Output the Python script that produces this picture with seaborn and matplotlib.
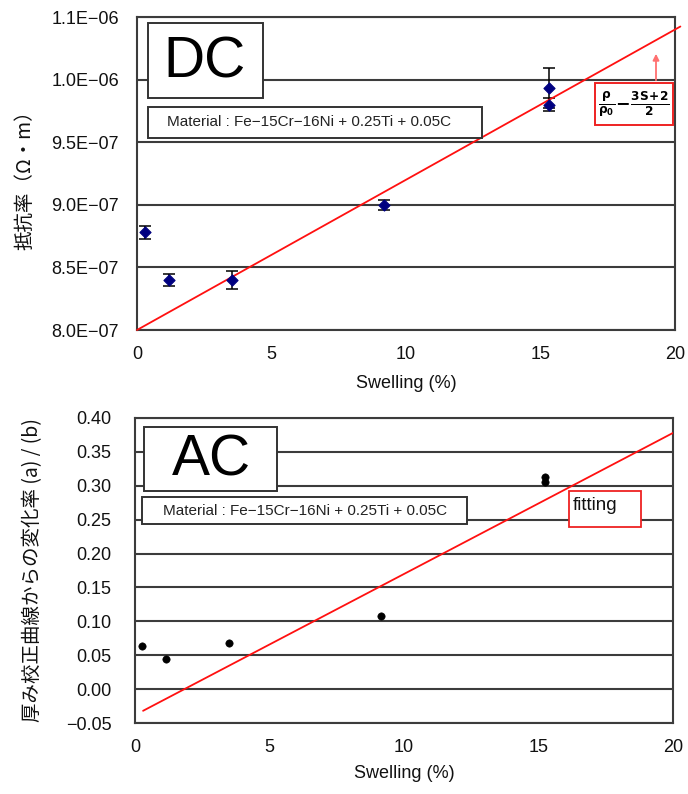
import matplotlib
matplotlib.use("Agg")
import matplotlib.pyplot as plt
import seaborn as sns
from matplotlib.patches import Rectangle, FancyArrowPatch
from matplotlib.ticker import FixedLocator, FixedFormatter

# ---- DC resistivity vs. swelling ----
dc_swelling = [0.3, 1.2, 3.55, 9.2, 15.3, 15.3]
dc_resistivity = [8.78e-7, 8.40e-7, 8.40e-7, 9.00e-7, 9.93e-7, 9.80e-7]
dc_error = [5e-9, 5e-9, 7e-9, 4e-9, 1.6e-8, 5e-9]
dc_fit_swelling = [0.0, 20.2]
dc_fit_resistivity = [8.0e-7, 1.0424e-6]

dc_y_ticks = [8.0e-7, 8.5e-7, 9.0e-7, 9.5e-7, 1.0e-6, 1.05e-6]
dc_y_tick_labels = ["8.0E\u221207", "8.5E\u221207", "9.0E\u221207",
                    "9.5E\u221207", "1.0E\u221206", "1.1E\u221206"]

# ---- AC thickness-calibration deviation vs. swelling ----
ac_swelling = [0.26, 1.15, 3.5, 9.15, 15.25, 15.25]
ac_change = [0.064, 0.045, 0.068, 0.108, 0.306, 0.313]
ac_fit_swelling = [0.3, 20.0]
ac_fit_change = [-0.032, 0.378]

ac_y_ticks = [-0.05, 0.0, 0.05, 0.10, 0.15, 0.20, 0.25, 0.30, 0.35, 0.40]
ac_y_tick_labels = ["\u22120.05", "0.00", "0.05", "0.10", "0.15",
                    "0.20", "0.25", "0.30", "0.35", "0.40"]

x_ticks = [0, 5, 10, 15, 20]
x_tick_labels = ["0", "5", "10", "15", "20"]

material = "Material : Fe\u221215Cr\u221216Ni + 0.25Ti + 0.05C"

sns.set_style("white")
plt.rcParams["font.family"] = ["Liberation Sans", "Noto Sans CJK JP", "DejaVu Sans"]
plt.rcParams["axes.unicode_minus"] = True

W, H = 688, 794
fig = plt.figure(figsize=(W / 100, H / 100), dpi=100)


def fx(px):
    return px / W


def fy(py):
    return 1 - py / H


def axes_rect(x0, y0, x1, y1):
    return [fx(x0), fy(y1), (x1 - x0) / W, (y1 - y0) / H]


def box(x0, y0, x1, y1, color="#333333", lw=1.4):
    fig.patches.append(Rectangle((fx(x0), fy(y1)), (x1 - x0) / W, (y1 - y0) / H,
                                 transform=fig.transFigure, fill=True,
                                 facecolor="white", edgecolor=color, lw=lw,
                                 zorder=5))


GRID = "#3c3c3c"


def style_axes(ax, yticks, ylabels, ypad):
    ax.set_xlim(0, 20)
    ax.xaxis.set_major_locator(FixedLocator(x_ticks))
    ax.xaxis.set_major_formatter(FixedFormatter(x_tick_labels))
    ax.yaxis.set_major_locator(FixedLocator(yticks))
    ax.yaxis.set_major_formatter(FixedFormatter(ylabels))
    ax.set_ylim(yticks[0], yticks[-1])
    ax.yaxis.grid(True, color=GRID, lw=1.5)
    ax.xaxis.grid(False)
    for s in ax.spines.values():
        s.set_color(GRID)
        s.set_linewidth(1.5)
    ax.tick_params(axis="x", direction="in", length=8, width=1.3, color=GRID,
                   labelsize=13, pad=11.5, labelcolor="#111111")
    ax.tick_params(axis="y", length=0, labelsize=13, pad=ypad,
                   labelcolor="#111111")
    ax.set_xlabel("")
    ax.set_ylabel("")


# ---------------- DC panel ----------------
ax1 = fig.add_axes(axes_rect(137, 17, 675, 330))
ax1.errorbar(dc_swelling, dc_resistivity, yerr=dc_error, fmt="none",
             ecolor="black", elinewidth=1.1, capsize=4, capthick=1.1, zorder=3)
sns.scatterplot(x=dc_swelling, y=dc_resistivity, marker="D", s=32,
                color="#000080", edgecolor="#000080", linewidth=0.8,
                ax=ax1, zorder=4)
sns.lineplot(x=dc_fit_swelling, y=dc_fit_resistivity, color="#ff1010",
             lw=1.3, ax=ax1, zorder=3, clip_on=False)
style_axes(ax1, dc_y_ticks, dc_y_tick_labels, 13)

box(148, 23, 263, 98)
fig.text(fx(205), fy(62), "DC", fontsize=41, ha="center", va="center",
         color="black", zorder=6)
box(148, 107, 482, 138)
fig.text(fx(167), fy(122.5), material, fontsize=11, ha="left", va="center",
         color="#222222", zorder=6)

box(595, 83, 673, 125, color="#ee2222", lw=1.4)
fig.text(fx(634), fy(104),
         r"$\mathbf{\frac{\rho}{\rho_0}\!-\!\frac{3S\!+\!2}{2}}$",
         fontsize=12.5, ha="center", va="center", color="black", zorder=6)
fig.patches.append(FancyArrowPatch((fx(656), fy(83)), (fx(656), fy(51)),
                                   transform=fig.transFigure,
                                   arrowstyle="-|>", mutation_scale=9,
                                   color="#ff7070", lw=1.3, zorder=6))

fig.text(fx(25), fy(175), "抵抗率（Ω・m）", rotation=90, fontsize=14,
         ha="center", va="center", color="#111111",
         family=["Noto Sans CJK JP", "DejaVu Sans"])
fig.text(fx(406), fy(383), "Swelling (%)", fontsize=13, ha="center",
         va="center", color="#111111")

# ---------------- AC panel ----------------
ax2 = fig.add_axes(axes_rect(135, 418, 673, 723))
sns.scatterplot(x=ac_swelling, y=ac_change, marker="o", s=28,
                color="black", edgecolor="black", ax=ax2, zorder=4)
sns.lineplot(x=ac_fit_swelling, y=ac_fit_change, color="#ff1010",
             lw=1.3, ax=ax2, zorder=3)
style_axes(ax2, ac_y_ticks, ac_y_tick_labels, 17)

box(144, 427, 277, 491)
fig.text(fx(211), fy(460), "AC", fontsize=41, ha="center", va="center",
         color="black", zorder=6)
box(142, 497, 467, 524)
fig.text(fx(163), fy(511), material, fontsize=11, ha="left", va="center",
         color="#222222", zorder=6)
box(569, 491, 641, 527, color="#ee2222", lw=1.3)
fig.text(fx(573), fy(505), "fitting", fontsize=13.5, ha="left", va="center",
         color="#111111", zorder=6)

fig.text(fx(33), fy(570), "厚み校正曲線からの変化率 (a) / (b)", rotation=90,
         fontsize=14, ha="center", va="center", color="#111111",
         family=["Noto Sans CJK JP", "DejaVu Sans"])
fig.text(fx(404), fy(773), "Swelling (%)", fontsize=13, ha="center",
         va="center", color="#111111")

fig.savefig("out.png", dpi=100, facecolor="white")
